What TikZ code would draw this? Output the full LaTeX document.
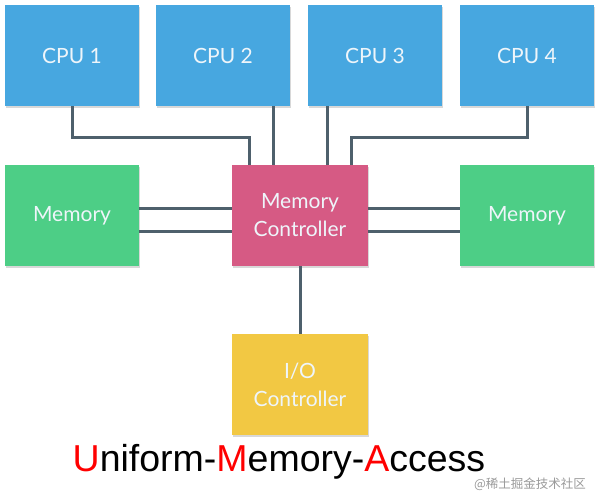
\documentclass[tikz,border=0pt]{standalone}
\usepackage{fontspec}
\setmainfont{Liberation Sans}
\newfontfamily\boxfont{Lato}
\newfontfamily\cjkfont{Noto Sans CJK SC}
\usetikzlibrary{shadows}
\definecolor{cpublue}{HTML}{47A7E0}
\definecolor{memgreen}{HTML}{4DCE86}
\definecolor{ctrlpink}{HTML}{D65A84}
\definecolor{ioyellow}{HTML}{F2C843}
\definecolor{linkgray}{HTML}{4E606C}
\definecolor{boxtext}{HTML}{EEF5FA}
\definecolor{wmgray}{HTML}{9A9A9A}
\tikzset{
  unit/.style={rectangle, inner sep=0pt, minimum width=134pt, minimum height=101pt,
    align=center, text=boxtext, font=\boxfont\fontsize{21}{28}\selectfont,
    drop shadow={shadow xshift=1pt, shadow yshift=-2pt, opacity=0.25, fill=black!60}},
  cpubox/.style={unit, fill=cpublue},
  membox/.style={unit, fill=memgreen},
  ctrlbox/.style={unit, fill=ctrlpink, minimum width=136pt},
  iobox/.style={unit, fill=ioyellow, minimum width=136pt},
  link/.style={draw=linkgray, line width=3pt},
}
\begin{document}
\begin{tikzpicture}[x=1pt, y=-1pt]
\useasboundingbox (0,0) rectangle (606,504);
\fill[white] (0,0) rectangle (606,504);
\node[cpubox] (cpu1) at (72,55.5) {CPU 1};
\node[cpubox] (cpu2) at (223,55.5) {CPU 2};
\node[cpubox] (cpu3) at (375,55.5) {CPU 3};
\node[cpubox] (cpu4) at (527,55.5) {CPU 4};
\node[membox] (meml) at (72,215.5) {Memory};
\node[ctrlbox] (mc) at (300,215.5) {Memory\\Controller};
\node[membox] (memr) at (527,215.5) {Memory};
\node[iobox] (io) at (300,384.5) {I/O\\Controller};
% connectors
\draw[link] (cpu1.south) -- ++(0,31) -| ([xshift=-51pt]mc.north);
\draw[link] ([xshift=-27pt]mc.north) -- ([xshift=-27pt]mc.north |- cpu2.south);
\draw[link] ([xshift=27pt]mc.north) -- ([xshift=27pt]mc.north |- cpu3.south);
\draw[link] (cpu4.south) -- ++(0,31) -| ([xshift=51pt]mc.north);
\draw[link] ([yshift=7.5pt]meml.east) -- ([yshift=7.5pt]mc.west);
\draw[link] ([yshift=-15.5pt]meml.east) -- ([yshift=-15.5pt]mc.west);
\draw[link] ([yshift=7.5pt]mc.east) -- ([yshift=7.5pt]memr.west);
\draw[link] ([yshift=-15.5pt]mc.east) -- ([yshift=-15.5pt]memr.west);
\draw[link] (mc.south) -- (io.north);
% title
\node[anchor=base west, inner sep=0pt, font=\fontsize{37.5}{40}\selectfont] (title) at (72.5,471.5)
  {\textcolor{red}{U}niform-\textcolor{red}{M}emory-\textcolor{red}{A}ccess};
\node[inner sep=0pt, text=wmgray, font=\cjkfont\fontsize{12.5}{14}\selectfont] (wm) at (530,484.5) {@稀土掘金技术社区};
\end{tikzpicture}
\end{document}
